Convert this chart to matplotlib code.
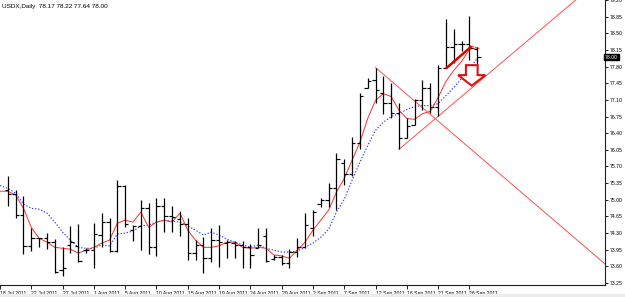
import numpy as np
import matplotlib
matplotlib.use("Agg")
import matplotlib.pyplot as plt
from matplotlib.patches import Polygon, Rectangle

plt.rcParams["font.family"] = ["Liberation Sans", "DejaVu Sans"]

# ── Data (USDX daily, 18 Jul 2011 .. 27 Sep 2011, incl. Sunday bars) ─────
nan = np.nan
opens = [nan, 75.20, 75.12, 74.68, 74.03, 74.19, 74.19, 74.11, 73.52, 74.05,
         74.03, 73.94, 73.94, 74.26, 74.53, 73.92, 75.28, 74.36, 74.45, 74.82,
         74.00, 74.86, 74.65, 74.59, 74.49, 73.88, 74.05, 73.77, 74.15, 74.09,
         74.09, 74.05, 74.00, 73.98, 74.24, 73.75, 73.80, 73.67, 73.90, 74.00,
         74.40, 74.91, 74.99, 75.24, 75.77, 75.54, 76.19, 77.36, 77.51, 77.25,
         77.04, 76.83, 76.29, 76.58, 77.09, 77.34, 76.96, 77.78, 78.22, 78.28,
         78.28, 78.17]
highs = [nan, 75.49, 75.20, 75.07, 74.40, 74.19, 74.30, 74.17, 74.00, 74.45,
         74.49, 73.98, 74.51, 74.72, 74.61, 75.41, 75.30, 74.47, 74.99, 74.93,
         75.03, 75.03, 74.86, 74.76, 74.61, 74.15, 74.21, 74.40, 74.47, 74.15,
         74.13, 74.13, 74.07, 74.40, 74.40, 73.84, 73.84, 73.96, 74.19, 74.72,
         74.78, 75.03, 75.35, 75.98, 75.85, 76.33, 77.25, 77.55, 77.78, 77.61,
         77.46, 77.04, 76.71, 77.11, 77.51, 77.46, 77.84, 78.81, 78.60, 78.34,
         78.87, 78.22]
lows = [nan, 74.86, 74.61, 73.86, 73.92, 74.00, 73.96, 73.46, 73.40, 73.88,
        73.69, 73.88, 73.56, 74.00, 73.90, 73.90, 74.42, 74.13, 73.94, 73.86,
        73.82, 74.32, 74.32, 74.24, 73.73, 73.73, 73.46, 73.69, 73.59, 73.77,
        73.77, 73.56, 73.56, 73.98, 73.69, 73.73, 73.63, 73.56, 73.80, 73.98,
        74.24, 74.84, 74.84, 74.78, 75.30, 75.51, 76.06, 77.34, 77.04, 76.81,
        76.71, 76.06, 76.29, 76.58, 76.88, 76.83, 76.77, 77.76, 77.88, 78.13,
        77.93, 77.82]
closes = [nan, 75.12, 74.68, 74.03, 74.19, 74.19, 74.11, 73.48, 73.56, 74.12,
          73.71, 73.94, 74.28, 74.53, 73.92, 75.28, 74.49, 74.45, 74.82, 74.00,
          74.86, 74.65, 74.63, 74.49, 73.88, 74.05, 73.77, 74.15, 74.11, 74.11,
          74.05, 74.00, 73.84, 74.05, 73.71, 73.80, 73.67, 73.90, 74.00, 74.47,
          74.74, 74.99, 75.24, 75.85, 75.54, 76.19, 77.19, 77.49, 77.30, 77.04,
          76.83, 76.29, 76.56, 77.09, 77.34, 76.96, 77.78, 78.22, 78.28, 78.28,
          78.20, 78.00]

ma_fast = [75.18, 75.18, 75.10, 74.82, 74.42, 74.19, 74.11, 74.00, 73.98, 73.96,
           73.88, 73.94, 74.00, 74.09, 74.15, 74.51, 74.57, 74.53, 74.74, 74.42,
           74.53, 74.57, 74.53, 74.72, 74.36, 74.15, 74.00, 74.00, 74.03, 74.11,
           74.11, 74.00, 73.98, 74.00, 73.98, 73.84, 73.82, 73.77, 73.94, 74.11,
           74.36, 74.57, 74.78, 75.16, 75.45, 75.83, 76.21, 76.71, 77.09, 77.23,
           77.17, 76.88, 76.71, 76.69, 76.81, 76.86, 77.15, 77.49, 77.72, 77.91,
           78.16, 78.20]
ma_slow = [75.30, 75.24, 75.14, 74.91, 74.82, 74.80, 74.72, 74.53, 74.32, 74.15,
           74.00, 73.98, 73.98, 74.05, 74.03, 74.28, 74.30, 74.34, 74.45, 74.47,
           74.53, 74.57, 74.55, 74.53, 74.45, 74.36, 74.26, 74.32, 74.26, 74.17,
           74.11, 74.05, 74.00, 74.05, 73.98, 73.94, 73.90, 73.90, 73.92, 74.00,
           74.09, 74.21, 74.38, 74.74, 75.01, 75.41, 75.79, 76.14, 76.46, 76.63,
           76.75, 76.81, 76.90, 76.96, 76.98, 76.98, 77.02, 77.19, 77.36, 77.55,
           77.76, 77.97]

date_labels = ["18 Jul 2011", "22 Jul 2011", "27 Jul 2011", "1 Aug 2011",
               "5 Aug 2011", "10 Aug 2011", "15 Aug 2011", "19 Aug 2011",
               "24 Aug 2011", "29 Aug 2011", "2 Sep 2011", "7 Sep 2011",
               "12 Sep 2011", "16 Sep 2011", "21 Sep 2011", "26 Sep 2011"]
price_ticks = [73.25, 73.60, 73.95, 74.30, 74.65, 75.00, 75.35, 75.70, 76.05,
               76.40, 76.75, 77.10, 77.45, 77.80, 78.15, 78.50, 78.85, 79.20]

# user drawn objects (bar index, price)
rise_line = [(51, 76.06), (61, 77.45)]
fall_line = [(48, 77.78), (61, 75.95)]
thick_line = [(57.0, 77.76), (60.3, 78.23), (61.3, 78.18)]
arrow_tip = (60.3, 77.40)
last_price = 78.00

# ── Figure ────────────────────────────────────────────────────────────────
fig = plt.figure(figsize=(6.25, 2.97), dpi=100)
ax = fig.add_axes([0.0, 1 - 285 / 297, 605 / 625, 285 / 297])
fig.patches.append(Rectangle((0, 0), 1, 3 / 297, transform=fig.transFigure,
                             color="#ececec", zorder=0))

x = np.arange(len(closes))
fnt = 3.7

ax.plot(x, ma_slow, color="#3030ff", lw=0.8, ls=(0, (1.2, 1.6)), zorder=2)
ax.plot(x, ma_fast, color="#ff3030", lw=0.7, zorder=2)

ax.vlines(x, lows, highs, color="black", lw=0.9, zorder=3)
ax.hlines(opens, x - 0.42, x, color="black", lw=0.85, zorder=3)
ax.hlines(closes, x, x + 0.42, color="black", lw=0.85, zorder=3)

# trend lines (rays to the right)
for (x0, y0), (x1, y1) in [rise_line, fall_line]:
    slope = (y1 - y0) / (x1 - x0)
    xe = 90
    ax.plot([x0, xe], [y0, y0 + slope * (xe - x0)], color="#ff5050", lw=0.7, zorder=2)

tx, ty = zip(*thick_line)
ax.plot(tx[:2], ty[:2], color="#e00000", lw=1.8, solid_capstyle="butt", zorder=4)
ax.plot(tx[1:], ty[1:], color="#ff4040", lw=0.8, ls=(0, (2, 1)), zorder=4)

# hollow down arrow
ax_, ay_ = arrow_tip
arrow = [(ax_ - 0.75, ay_ + 0.43), (ax_ - 0.75, ay_ + 0.22), (ax_ - 1.75, ay_ + 0.22),
         (ax_, ay_), (ax_ + 1.75, ay_ + 0.22), (ax_ + 0.75, ay_ + 0.22),
         (ax_ + 0.75, ay_ + 0.43)]
ax.add_patch(Polygon(arrow, closed=True, facecolor="white", edgecolor="#e01010",
                     lw=1.5, zorder=5))

ax.set_xlim(0.064, 77.33)
ax.set_ylim(73.208, 79.183)

ax.yaxis.tick_right()
ax.set_yticks(price_ticks)
ax.set_yticklabels([f"{p:.2f}" for p in price_ticks])
ax.tick_params(axis="y", length=2.5, width=0.6, pad=1, labelsize=fnt, colors="black")
ax.set_xticks(np.arange(0, len(closes), 4)[:len(date_labels)])
ax.set_xticklabels(date_labels, ha="left")
ax.tick_params(axis="x", length=3, width=0.6, pad=1, labelsize=fnt, colors="black")

for s in ["top", "left"]:
    ax.spines[s].set_visible(False)
for s in ["right", "bottom"]:
    ax.spines[s].set_linewidth(0.8)
    ax.spines[s].set_color("#202020")

ax.text(1.0, last_price, f"{last_price:.2f}", transform=ax.get_yaxis_transform(),
        ha="left", va="center", fontsize=fnt, color="white",
        bbox=dict(boxstyle="square,pad=0.15", fc="black", ec="black"))

ax.text(0.004, 0.985, "USDX,Daily  78.17 78.22 77.64 78.00", transform=ax.transAxes,
        ha="left", va="top", fontsize=4.6, color="black")

fig.savefig("out.png", dpi=100)
